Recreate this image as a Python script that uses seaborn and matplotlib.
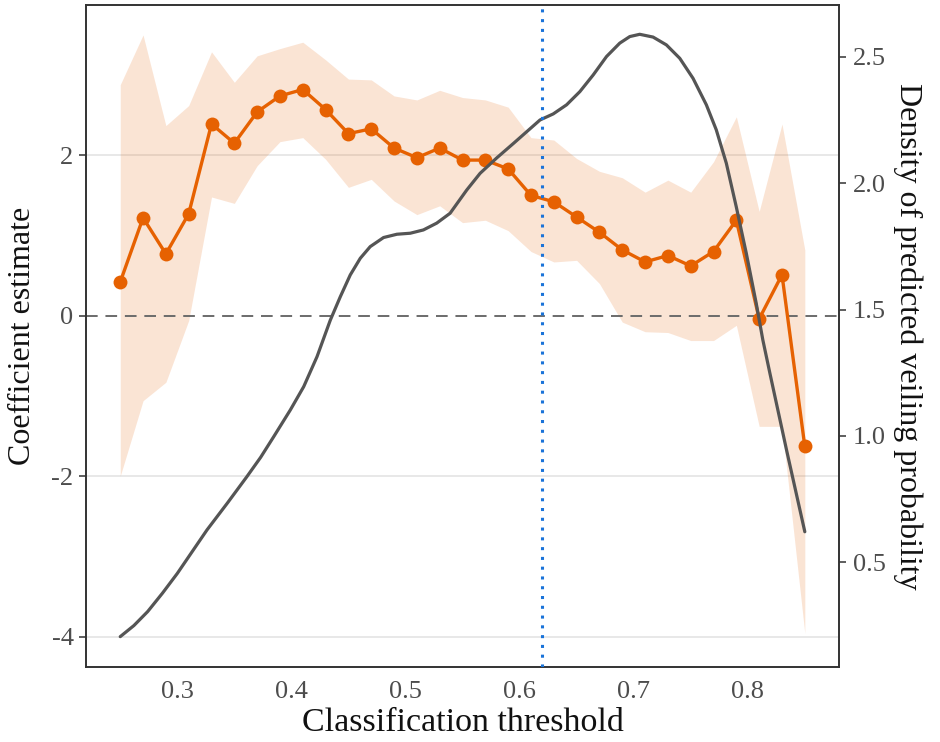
import matplotlib
matplotlib.use("Agg")
import matplotlib.pyplot as plt
import seaborn as sns
import pandas as pd
from matplotlib.ticker import FormatStrFormatter

# Coefficient estimates across classification thresholds
thresholds = [0.25, 0.27, 0.29, 0.31, 0.33, 0.35, 0.37, 0.39, 0.41, 0.43,
              0.45, 0.47, 0.49, 0.51, 0.53, 0.55, 0.57, 0.59, 0.61, 0.63,
              0.65, 0.67, 0.69, 0.71, 0.73, 0.75, 0.77, 0.79, 0.81, 0.83, 0.85]
estimate = [0.42, 1.22, 0.77, 1.27, 2.39, 2.15, 2.54, 2.74, 2.82, 2.57,
            2.27, 2.33, 2.09, 1.97, 2.09, 1.94, 1.94, 1.83, 1.50, 1.42,
            1.23, 1.04, 0.82, 0.67, 0.75, 0.62, 0.80, 1.19, -0.04, 0.51, -1.63]
ci_upper = [2.88, 3.50, 2.37, 2.62, 3.29, 2.91, 3.24, 3.33, 3.41, 3.19,
            2.95, 2.94, 2.74, 2.69, 2.81, 2.72, 2.69, 2.60, 2.22, 2.19,
            1.96, 1.80, 1.72, 1.54, 1.69, 1.54, 1.92, 2.48, 1.30, 2.39, 0.82]
ci_lower = [-2.00, -1.06, -0.83, -0.06, 1.48, 1.40, 1.87, 2.17, 2.22, 1.95,
            1.60, 1.70, 1.43, 1.26, 1.37, 1.16, 1.19, 1.06, 0.80, 0.67,
            0.69, 0.40, -0.08, -0.20, -0.21, -0.31, -0.31, -0.12, -1.38, -1.38, -3.96]

# Density of predicted veiling probability
density_x = [0.250, 0.262, 0.274, 0.287, 0.300, 0.313, 0.326, 0.344, 0.361,
             0.373, 0.3845, 0.3991, 0.4108, 0.4225, 0.4341, 0.4429, 0.4516,
             0.4604, 0.4691, 0.4808, 0.4925, 0.5042, 0.5157, 0.5274, 0.5391,
             0.5537, 0.5654, 0.580, 0.5948, 0.6179, 0.6295, 0.6412, 0.6528,
             0.6645, 0.6762, 0.6878, 0.6966, 0.7053, 0.717, 0.7287, 0.7404,
             0.752, 0.7637, 0.7724, 0.7812, 0.7899, 0.7987, 0.8074, 0.8132,
             0.8194, 0.834, 0.850]
density_y = [0.206, 0.250, 0.305, 0.378, 0.456, 0.542, 0.628, 0.735, 0.839,
             0.915, 0.997, 1.103, 1.195, 1.314, 1.458, 1.551, 1.637,
             1.703, 1.749, 1.785, 1.798, 1.802, 1.815, 1.842, 1.881,
             1.973, 2.039, 2.100, 2.158, 2.250, 2.274, 2.310, 2.362,
             2.428, 2.501, 2.554, 2.580, 2.589, 2.578, 2.547, 2.494,
             2.415, 2.310, 2.211, 2.079, 1.907, 1.723, 1.525, 1.380,
             1.248, 0.944, 0.621]

x_ticks = [0.3, 0.4, 0.5, 0.6, 0.7, 0.8]
left_ticks = [-4, -2, 0, 2]
right_ticks = [0.5, 1.0, 1.5, 2.0, 2.5]
cutoff = 0.62

coef_df = pd.DataFrame({"threshold": thresholds, "estimate": estimate,
                        "lower": ci_lower, "upper": ci_upper})
dens_df = pd.DataFrame({"threshold": density_x, "density": density_y})

sns.set_theme(style="white")
plt.rcParams["font.family"] = ["Liberation Serif", "DejaVu Serif"]

orange = "#e66101"
tick_grey = "#4d4d4d"

fig = plt.figure(figsize=(9.4, 7.42), dpi=100)
ax = fig.add_axes([0.0915, 0.1011, 0.8011, 0.8922])

for yv in left_ticks:
    if yv != 0:
        ax.axhline(yv, color="#e8e8e8", lw=1.4, zorder=0)

ax.fill_between(coef_df["threshold"], coef_df["lower"], coef_df["upper"],
                color=orange, alpha=0.17, lw=0, zorder=1)
ax.axhline(0, color="#6b6b6b", lw=1.4, ls=(0, (6, 4)), zorder=2)
sns.lineplot(data=coef_df, x="threshold", y="estimate", ax=ax, color=orange,
             lw=2.4, marker="o", markersize=10, markeredgewidth=0, zorder=3)

ax.set_xlim(0.22, 0.88)
ax.set_ylim(-4.38, 3.874)
ax.set_xticks(x_ticks)
ax.set_xticklabels([f"{v:.1f}" for v in x_ticks])
ax.set_yticks(left_ticks)
ax.set_yticklabels([str(v) for v in left_ticks])
ax.set_xlabel("Classification threshold", fontsize=24.5, color="#111111", labelpad=3)
ax.set_ylabel("Coefficient estimate", fontsize=23, color="#111111", labelpad=10)

ax2 = ax.twinx()
sns.lineplot(data=dens_df, x="threshold", y="density", ax=ax2,
             color="#555555", lw=2.3, zorder=4)
ax2.axvline(cutoff, color="#1a73d9", lw=2.2, ls=(0, (1, 2.2)), zorder=5)
ax2.set_ylim(0.086, 2.705)
ax2.set_yticks(right_ticks)
ax2.yaxis.set_major_formatter(FormatStrFormatter("%.1f"))
ax2.set_ylabel("Density of predicted veiling probability", fontsize=23,
               color="#111111", rotation=270, labelpad=26)
ax2.set_xlim(0.22, 0.88)

for a in (ax, ax2):
    a.tick_params(axis="both", which="major", direction="out", length=5,
                  width=1.1, color="#333333", labelsize=19, labelcolor=tick_grey)
    for s in a.spines.values():
        s.set_color("#333333")
        s.set_linewidth(1.2)
ax.tick_params(axis="x", pad=5)
ax.tick_params(axis="y", pad=4)
ax2.tick_params(axis="y", pad=5)
ax2.grid(False)

fig.savefig("out.png", dpi=100)
